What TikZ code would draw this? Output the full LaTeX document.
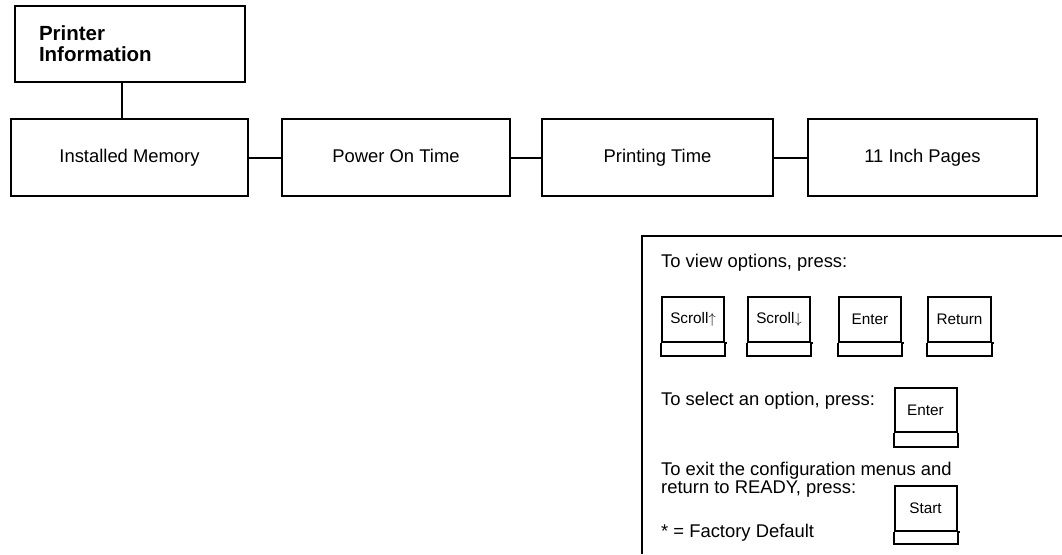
\documentclass[tikz,border=0pt]{standalone}
\usepackage{fontspec}
\setmainfont{Liberation Sans}
\usetikzlibrary{positioning}

\begin{document}
\begin{tikzpicture}[
  x=1pt, y=-1pt,
  font=\fontsize{18.4}{18}\selectfont,
  box/.style={draw=black, line width=2pt, minimum height=77pt, inner sep=0pt,
              text height=13.2pt, text depth=3pt},
  key/.style={draw=black, line width=2pt, minimum width=62pt, minimum height=45pt,
              inner sep=0pt, font=\fontsize{15.3}{16}\selectfont},
  link/.style={line width=2pt, black},
  note/.style={anchor=base west, inner sep=0pt, align=left},
]
\useasboundingbox (0,0) rectangle (1062,554);
% menu title
\node[draw=black, line width=2pt, inner sep=0pt, minimum width=230pt, minimum height=76pt,
      text width=182pt, align=left, font=\bfseries\fontsize{20.5}{21}\selectfont]
  (info) at (130,44) {Printer\\Information};
% menu items (one row)
\node[box, minimum width=237pt] (memory) at (129.5,157.5) {Installed Memory};
\node[box, minimum width=228pt] (power) at (396,157.5) {Power On Time};
\node[box, minimum width=231pt] (printing) at (657.5,157.5) {Printing Time};
\node[box, minimum width=229pt] (pages) at (922.5,157.5) {11 Inch Pages};
% links between menu levels
\draw[link] ([xshift=-8pt]info.south) -- ([xshift=-7.5pt]memory.north);
\draw[link] (memory) -- (power);
\draw[link] (power) -- (printing);
\draw[link] (printing) -- (pages);
% legend frame
\draw[link] (1062,236) -| (642,554);
% legend texts
\node[note] (view) at (661,267) {To view options, press:};
\node[note] (select) at (661,405) {To select an option, press:};
\node[note] (exit) at (661,493) {To exit the configuration menus and\\return to READY, press:};
\node[note] (default) at (661,537) {* = Factory Default};
% keys
\node[key] (up) at (693,319.5) {Scroll$\uparrow$};
\node[key] (down) at (779,319.5) {Scroll$\downarrow$};
\node[key] (enter) at (870,319.5) {Enter};
\node[key, minimum width=63pt] (ret) at (959.5,319.5) {Return};
\node[key, minimum height=44pt] (sel) at (925.5,410) {Enter};
\node[key] (start) at (925.5,508.5) {Start};
% lower part of each key
\draw[link] (up.south west) -- ++(0,13) -| (up.south east) -- ++(2,0);
\draw[link] (down.south west) -- ++(0,13) -| (down.south east) -- ++(2,0);
\draw[link] (enter.south west) -- ++(0,13) -| (enter.south east) -- ++(2,0);
\draw[link] (ret.south west) -- ++(0,13) -| (ret.south east) -- ++(2,0);
\draw[link] (sel.south west) -- ++(0,14) -| (sel.south east);
\draw[link] (start.south west) -- ++(0,12) -| (start.south east) -- ++(2,0);
\end{tikzpicture}
\end{document}
